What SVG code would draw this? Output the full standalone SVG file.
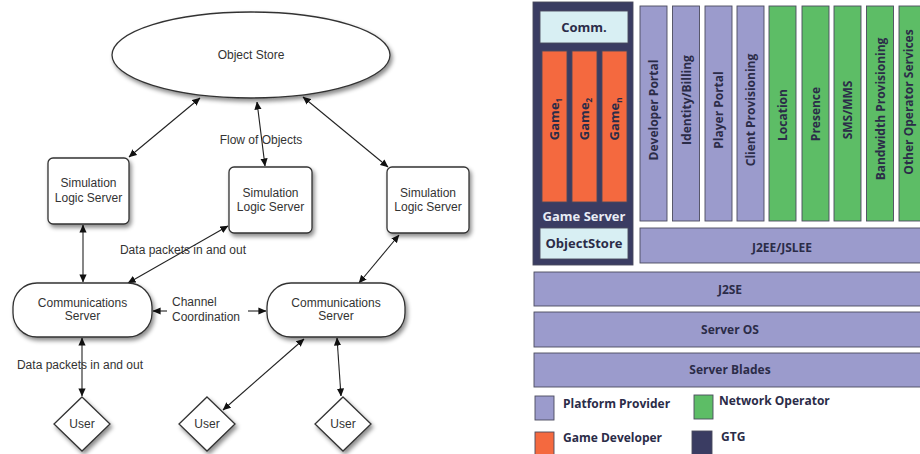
<svg xmlns="http://www.w3.org/2000/svg" width="920" height="454" viewBox="0 0 920 454">
  <defs>
    <filter id="shadow" x="-20%" y="-20%" width="150%" height="160%">
      <feDropShadow dx="2" dy="3" stdDeviation="2" flood-color="#000" flood-opacity="0.45"/>
    </filter>
    <marker id="arrow" viewBox="0 0 10 10" refX="9.5" refY="5" markerWidth="8" markerHeight="8" markerUnits="userSpaceOnUse" orient="auto-start-reverse">
      <path d="M0,0.5 L10,5 L0,9.5 Z" fill="#111"/>
    </marker>
  </defs>
  <style>
    .node { fill: #fff; stroke: #333; stroke-width: 1.3; filter: url(#shadow); }
    .lbl { font-family: "Liberation Sans", Arial, sans-serif; font-size: 12px; fill: #333; text-anchor: middle; }
    .lbl-l { font-family: "Liberation Sans", Arial, sans-serif; font-size: 12px; fill: #333; }
    .edge { stroke: #222; stroke-width: 1.1; fill: none; marker-start: url(#arrow); marker-end: url(#arrow); }
    .edge1 { stroke: #222; stroke-width: 1.1; fill: none; marker-end: url(#arrow); }
    .blk { stroke: #4b4b5e; stroke-width: 0.9; }
    .pp { fill: #9b9bcc; }
    .no { fill: #5dbd66; }
    .gd { fill: #f4693f; }
    .gtg { fill: #3a3c62; }
    .lt { fill: #d8eff3; }
    .t { font-family: "Open Sans", Lato, sans-serif; font-weight: 700; font-size: 12px; fill: #2b2c48; text-anchor: middle; }
    .tl { font-family: "Open Sans", Lato, sans-serif; font-weight: 700; font-size: 12px; fill: #2b2c48; }
    .big { font-size: 13px; }
  </style>

  <!-- ===== Left: distributed game server topology ===== -->
  <g id="connectors">
    <line class="edge" x1="200" y1="98" x2="129" y2="157"/>
    <line class="edge" x1="257" y1="102" x2="265" y2="166"/>
    <line class="edge" x1="303" y1="97" x2="388" y2="167"/>
    <line class="edge" x1="83" y1="225" x2="83" y2="282"/>
    <line class="edge" x1="228" y1="226" x2="128" y2="283"/>
    <line class="edge" x1="399" y1="235" x2="359" y2="283"/>
    <line class="edge1" x1="167" y1="311" x2="153" y2="311"/>
    <line class="edge1" x1="248" y1="311" x2="266" y2="311"/>
    <line class="edge" x1="82" y1="338" x2="82" y2="396"/>
    <line class="edge" x1="304" y1="339" x2="223" y2="410"/>
    <line class="edge" x1="337" y1="338" x2="341" y2="396"/>
    <text class="lbl" x="261" y="144">Flow of Objects</text>
    <text class="lbl" x="183" y="254">Data packets in and out</text>
    <text class="lbl-l" x="172" y="306">Channel</text>
    <text class="lbl-l" x="172" y="321">Coordination</text>
    <text class="lbl" x="80" y="369">Data packets in and out</text>
  </g>

  <g id="object-store">
    <ellipse class="node" cx="251" cy="55" rx="139" ry="43"/>
    <text class="lbl" x="251" y="59">Object Store</text>
  </g>

  <g id="sim-logic-1">
    <rect class="node" x="48" y="158" width="81" height="66" rx="5"/>
    <text class="lbl" x="88.5" y="187">Simulation</text>
    <text class="lbl" x="88.5" y="202">Logic Server</text>
  </g>
  <g id="sim-logic-2">
    <rect class="node" x="229" y="167" width="83" height="66" rx="5"/>
    <text class="lbl" x="270.5" y="197">Simulation</text>
    <text class="lbl" x="270.5" y="211">Logic Server</text>
  </g>
  <g id="sim-logic-3">
    <rect class="node" x="387" y="167" width="82" height="66" rx="5"/>
    <text class="lbl" x="428" y="197">Simulation</text>
    <text class="lbl" x="428" y="211">Logic Server</text>
  </g>

  <g id="comm-server-1">
    <rect class="node" x="13" y="283" width="139" height="54" rx="24"/>
    <text class="lbl" x="82.5" y="307">Communications</text>
    <text class="lbl" x="82.5" y="320">Server</text>
  </g>
  <g id="comm-server-2">
    <rect class="node" x="267" y="283" width="138" height="54" rx="24"/>
    <text class="lbl" x="336" y="307">Communications</text>
    <text class="lbl" x="336" y="320">Server</text>
  </g>

  <g id="user-1">
    <polygon class="node" points="82,397 110,424 82,451 54,424"/>
    <text class="lbl" x="82" y="428">User</text>
  </g>
  <g id="user-2">
    <polygon class="node" points="207,397 235,424 207,451 179,424"/>
    <text class="lbl" x="207" y="428">User</text>
  </g>
  <g id="user-3">
    <polygon class="node" points="343,397 371,424 343,451 315,424"/>
    <text class="lbl" x="343" y="428">User</text>
  </g>

  <!-- ===== Right: platform stack ===== -->
  <g id="game-server">
    <rect class="blk gtg" x="533" y="2" width="100" height="263"/>
    <rect class="blk lt" x="540" y="11" width="88" height="32"/>
    <text class="t big" x="584" y="32">Comm.</text>
    <rect class="blk gd" x="542" y="51" width="25" height="151"/>
    <rect class="blk gd" x="572" y="51" width="25" height="151"/>
    <rect class="blk gd" x="602" y="51" width="25" height="151"/>
    <text class="t big" transform="translate(559,119) rotate(-90)">Game<tspan font-size="8" dy="3">1</tspan></text>
    <text class="t big" transform="translate(589,119) rotate(-90)">Game<tspan font-size="8" dy="3">2</tspan></text>
    <text class="t big" transform="translate(619,119) rotate(-90)">Game<tspan font-size="8" dy="3">n</tspan></text>
    <text class="t big" x="584" y="221" style="fill:#e8ecf5">Game Server</text>
    <rect class="blk lt" x="540" y="228" width="88" height="31"/>
    <text class="t big" x="584" y="248">ObjectStore</text>
  </g>

  <g id="services">
    <rect class="blk pp" x="640" y="6" width="27" height="215"/>
    <rect class="blk pp" x="672.5" y="6" width="27" height="215"/>
    <rect class="blk pp" x="705" y="6" width="27" height="215"/>
    <rect class="blk pp" x="737" y="6" width="27" height="215"/>
    <rect class="blk no" x="769" y="6" width="27" height="215"/>
    <rect class="blk no" x="802" y="6" width="27" height="215"/>
    <rect class="blk no" x="834" y="6" width="27" height="215"/>
    <rect class="blk no" x="866.5" y="6" width="27" height="215"/>
    <rect class="blk no" x="899" y="6" width="27" height="215"/>
    <text class="t" transform="translate(658,110) rotate(-90)">Developer Portal</text>
    <text class="t" transform="translate(690.5,100) rotate(-90)">Identity/Billing</text>
    <text class="t" transform="translate(723,110) rotate(-90)">Player Portal</text>
    <text class="t" transform="translate(755,110) rotate(-90)">Client Provisioning</text>
    <text class="t" transform="translate(787,115) rotate(-90)">Location</text>
    <text class="t" transform="translate(820,114) rotate(-90)">Presence</text>
    <text class="t" transform="translate(852,110) rotate(-90)">SMS/MMS</text>
    <text class="t" transform="translate(884.5,109) rotate(-90)">Bandwidth Provisioning</text>
    <text class="t" transform="translate(913,102) rotate(-90)">Other Operator Services</text>
  </g>

  <g id="j2ee">
    <rect class="blk pp" x="640" y="228" width="290" height="35"/>
    <text class="t" x="782" y="252">J2EE/JSLEE</text>
  </g>
  <g id="j2se">
    <rect class="blk pp" x="534" y="272" width="396" height="34"/>
    <text class="t" x="730" y="294">J2SE</text>
  </g>
  <g id="server-os">
    <rect class="blk pp" x="534" y="312" width="396" height="35"/>
    <text class="t" x="730" y="334">Server OS</text>
  </g>
  <g id="server-blades">
    <rect class="blk pp" x="534" y="353" width="396" height="34"/>
    <text class="t" x="730" y="374">Server Blades</text>
  </g>

  <g id="legend">
    <rect class="blk pp" x="535" y="396" width="19" height="24"/>
    <text class="tl" x="563" y="408">Platform Provider</text>
    <rect class="blk no" x="694" y="395" width="19" height="24"/>
    <text class="tl" x="719" y="405">Network Operator</text>
    <rect class="blk gd" x="535" y="432" width="19" height="24"/>
    <text class="tl" x="563" y="442">Game Developer</text>
    <rect class="blk gtg" x="692" y="431" width="20" height="25"/>
    <text class="tl" x="721" y="441">GTG</text>
  </g>
</svg>
